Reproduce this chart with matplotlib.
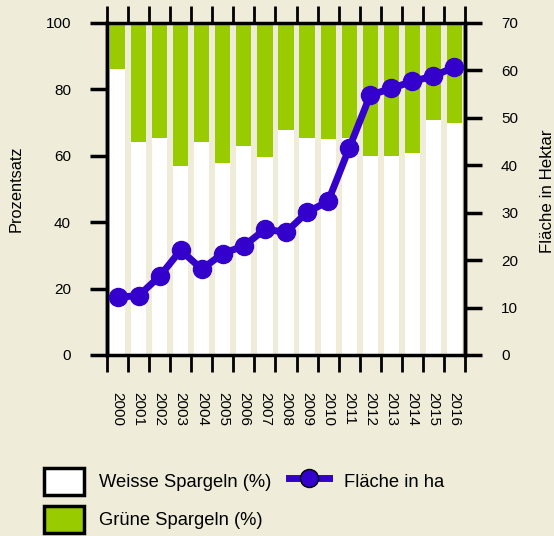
import matplotlib.pyplot as plt
from matplotlib.patches import Patch
from matplotlib.lines import Line2D

plt.rcParams['font.family'] = ['Liberation Sans', 'DejaVu Sans']

years = [str(y) for y in range(2000, 2017)]
weisse = [86.1, 64.2, 65.5, 57.0, 64.2, 57.9, 63.0, 59.7, 67.8, 65.5,
          65.2, 65.5, 60.0, 60.0, 60.9, 70.9, 70.0]
gruene = [100 - w for w in weisse]
flaeche = [12.2, 12.5, 16.6, 22.1, 18.1, 21.4, 23.0, 26.5, 25.9, 30.1,
           32.4, 43.6, 54.8, 56.2, 57.7, 58.8, 60.7]

bg = '#efedd9'
green = '#99cc00'
blue = '#3300cc'

W, H = 554, 536
fig = plt.figure(figsize=(W / 100, H / 100), dpi=100, facecolor=bg)
ax = fig.add_axes([107 / W, 1 - 355 / H, 358 / W, 332 / H])
ax.set_facecolor(bg)

x = list(range(len(years)))
ax.bar(x, weisse, width=0.72, color='white', zorder=2)
ax.bar(x, gruene, width=0.72, bottom=weisse, color=green, zorder=2)

ax.set_xlim(-0.5, len(years) - 0.5)
ax.set_ylim(0, 100)
ax.set_yticks(range(0, 101, 20))
ax.set_xticks(x)
ax.set_xticklabels(years, rotation=-90, fontsize=11)
ax.set_xticks([i - 0.5 for i in range(len(years) + 1)], minor=True)
ax.tick_params(axis='x', which='major', length=0, pad=27)
ax.tick_params(axis='x', which='minor', length=12, width=2, direction='out',
               top=True, bottom=True)
ax.tick_params(axis='y', length=12, width=2.5, labelsize=11, pad=14)
for s in ax.spines.values():
    s.set_linewidth(2.5)
ax.spines['top'].set_linewidth(2)
ax.spines['bottom'].set_linewidth(2)

ax2 = ax.twinx()
ax2.plot(x, flaeche, color=blue, lw=5, marker='o', ms=13, zorder=3)
ax2.set_ylim(0, 70)
ax2.set_yticks(range(0, 71, 10))
ax2.tick_params(axis='y', length=12, width=2.5, labelsize=11, pad=14)
for s in ax2.spines.values():
    s.set_linewidth(2.5)

fig.text(16.5 / W, 1 - 189 / H, 'Prozentsatz', rotation=90, fontsize=11.8,
         ha='center', va='center')
fig.text(547 / W, 1 - 191 / H, 'Fläche in Hektar', rotation=90, fontsize=12.2,
         ha='center', va='center')

handles = [
    Patch(facecolor='white', edgecolor='black', linewidth=2.5),
    Patch(facecolor=green, edgecolor='black', linewidth=2.5),
    Line2D([], [], color=blue, lw=5, marker='o', ms=13,
           markerfacecolor=blue, markeredgecolor='black', markeredgewidth=1),
]
labels = ['Weisse Spargeln (%)', 'Grüne Spargeln (%)', 'Fläche in ha']
fig.legend(handles, labels, loc='upper left', bbox_to_anchor=(44 / W, 1 - 468 / H),
           ncol=2, frameon=False, fontsize=13.2, handlelength=2.18, handleheight=1.9,
           columnspacing=0.98, handletextpad=0.82, labelspacing=0.58,
           borderpad=0, borderaxespad=0)

fig.savefig('out.png', dpi=100, facecolor=bg)
